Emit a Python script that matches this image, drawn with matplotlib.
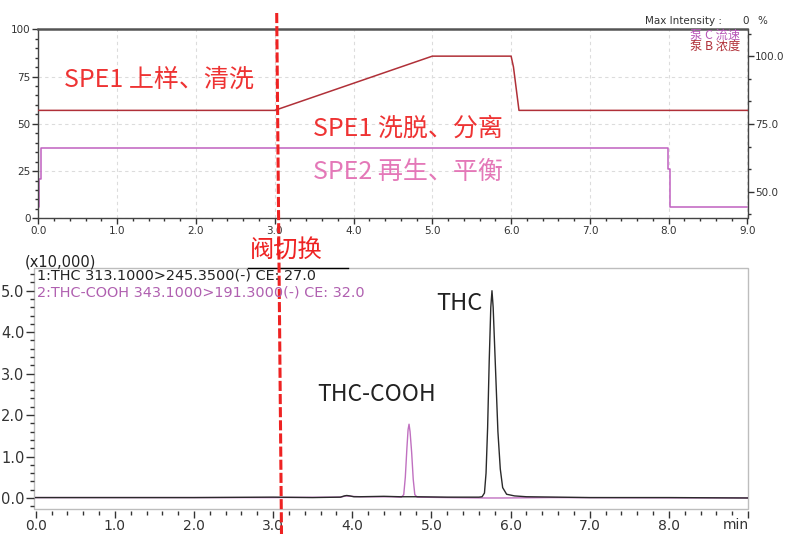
import matplotlib
matplotlib.use('Agg')
import matplotlib.pyplot as plt
from matplotlib.ticker import MultipleLocator, FormatStrFormatter, FixedLocator
from matplotlib.lines import Line2D
from matplotlib.patches import Rectangle

plt.rcParams['font.family'] = ['DejaVu Sans']
CJK = ['Noto Sans CJK SC', 'DejaVu Sans']

############# pump program (upper panel) #############
pump_b_time = [0.0, 3.0, 5.0, 6.0, 6.03, 6.1, 9.0]
pump_b_conc = [80, 80, 100, 100, 96, 80, 80]          # %, right axis

pump_c_time = [0.0, 0.01, 0.01, 0.03, 0.03, 7.99, 7.99, 8.02, 8.02, 9.0]
pump_c_flow = [6, 6, 21, 21, 37, 37, 26, 26, 6, 6]     # left axis

############# MRM chromatogram (lower panel, x10,000) #############
thc_time = [0.0, 1.0, 2.0, 3.0, 3.5, 3.85, 3.9, 3.93, 3.97, 4.02, 4.1, 4.4,
            4.6, 4.8, 5.2, 5.6, 5.64, 5.67, 5.69, 5.71, 5.73, 5.75, 5.765,
            5.78, 5.80, 5.82, 5.84, 5.87, 5.90, 5.95, 6.05, 6.2, 7.0, 8.0, 9.0]
thc_int = [0.01, 0.01, 0.01, 0.02, 0.01, 0.02, 0.05, 0.06, 0.05, 0.03, 0.03, 0.04,
           0.03, 0.03, 0.02, 0.02, 0.03, 0.12, 0.6, 1.7, 3.3, 4.6, 5.0,
           4.6, 3.6, 2.6, 1.6, 0.7, 0.25, 0.09, 0.05, 0.03, 0.01, 0.01, 0.0]

cooh_time = [0.0, 1.0, 2.0, 3.0, 3.85, 3.92, 3.98, 4.1, 4.5, 4.62, 4.65, 4.67,
             4.69, 4.705, 4.717, 4.73, 4.75, 4.77, 4.79, 4.82, 5.2, 5.7, 5.9,
             6.5, 9.0]
cooh_int = [0.01, 0.01, 0.01, 0.01, 0.02, 0.05, 0.04, 0.03, 0.03, 0.02, 0.08, 0.5,
            1.2, 1.65, 1.78, 1.6, 1.1, 0.45, 0.08, 0.02, 0.01, 0.0, 0.0,
            0.01, 0.0]

W, H = 785, 534
fig = plt.figure(figsize=(W / 100, H / 100), dpi=100)


def fx(px):
    return px / W


def fy(py):
    return 1 - py / H


############# upper panel #############
ax1 = fig.add_axes([fx(38.3), fy(218.3), fx(747.5) - fx(38.3), fy(29.3) - fy(218.3)])
ax1.set_xlim(0, 9)
ax1.set_ylim(0, 100)
ax1.grid(True, which='major', ls=(0, (3, 3)), color='#dcdcdc', lw=0.8)
ax1.xaxis.set_major_locator(MultipleLocator(1.0))
ax1.xaxis.set_minor_locator(MultipleLocator(0.2))
ax1.xaxis.set_major_formatter(FormatStrFormatter('%.1f'))
ax1.yaxis.set_major_locator(MultipleLocator(25))
ax1.yaxis.set_minor_locator(MultipleLocator(5))
ax1.tick_params(which='major', length=4, width=1, color='#333333',
                labelsize=7.5, labelcolor='#333333', pad=1.5)
ax1.tick_params(which='minor', length=2.5, width=1, color='#333333')
for s in ax1.spines.values():
    s.set_color('#444444')
    s.set_linewidth(1.0)
ax1.spines['top'].set_linewidth(1.8)
ax1.spines['top'].set_color('#555555')

ax1.plot(pump_c_time, pump_c_flow, color='#c060c0', lw=1.1)

ax1r = ax1.twinx()
ax1r.set_ylim(40.2, 109.9)
ax1r.yaxis.set_major_locator(FixedLocator([50, 75, 100]))
ax1r.yaxis.set_minor_locator(MultipleLocator(25 / 3))
ax1r.yaxis.set_major_formatter(FormatStrFormatter('%.1f'))
ax1r.tick_params(which='major', length=4, width=1, color='#333333',
                 labelsize=7.5, labelcolor='#333333', pad=1.5)
ax1r.tick_params(which='minor', length=2.5, width=1, color='#333333')
for s in ax1r.spines.values():
    s.set_visible(False)
ax1r.plot(pump_b_time, pump_b_conc, color='#b03038', lw=1.1)

ax1.text(0.33, 73.2, 'SPE1 上样、清洗', family=CJK, fontsize=18,
         color='#ee3333', ha='left', va='center')
ax1.text(3.48, 47.6, 'SPE1 洗脱、分离', family=CJK, fontsize=18,
         color='#ee3333', ha='left', va='center')
ax1.text(3.48, 24.7, 'SPE2 再生、平衡', family=CJK, fontsize=18,
         color='#e478b8', ha='left', va='center')

fig.text(fx(722), fy(21.5), 'Max Intensity :', fontsize=7.5, color='#333333',
         ha='right', va='center')
fig.text(fx(746), fy(21.5), '0', fontsize=7.5, color='#333333', ha='center', va='center')
fig.text(fx(762), fy(21.5), '%', fontsize=7.5, color='#333333', ha='center', va='center')
fig.text(fx(740), fy(35), '泵 C 流速', family=CJK, fontsize=8.8, color='#b858b8',
         ha='right', va='center')
fig.text(fx(740), fy(46.5), '泵 B 浓度', family=CJK, fontsize=8.8, color='#b03038',
         ha='right', va='center')

############# lower panel #############
ax2 = fig.add_axes([fx(34.3), fy(509.3), fx(748) - fx(34.3), fy(268) - fy(509.3)])
ax2.set_xlim(-0.018, 9.0)
ax2.set_ylim(-0.273, 5.548)
for s in ax2.spines.values():
    s.set_visible(False)
ax2.spines['bottom'].set_position(('outward', 1.5))
ax2.add_patch(Rectangle((0, 0), 1, 1, transform=ax2.transAxes, fill=False,
                        ec='#bdbdbd', lw=1.0, clip_on=False, zorder=0.5))

ax2.xaxis.set_major_locator(MultipleLocator(1.0))
ax2.xaxis.set_minor_locator(MultipleLocator(0.2))
ax2.xaxis.set_major_formatter(
    plt.FuncFormatter(lambda v, p: '' if v > 8.5 else '%.1f' % v))
ax2.yaxis.set_major_locator(MultipleLocator(1.0))
ax2.yaxis.set_minor_locator(MultipleLocator(0.2))
ax2.yaxis.set_major_formatter(FormatStrFormatter('%.1f'))
ax2.tick_params(axis='x', which='major', length=5, width=1, color='#333333',
                labelsize=10, labelcolor='#333333', pad=0.5)
ax2.tick_params(axis='x', which='minor', length=3, width=1, color='#333333')
ax2.tick_params(axis='y', which='major', length=6, width=1, color='#333333',
                labelsize=10.5, labelcolor='#333333', pad=1)
ax2.tick_params(axis='y', which='minor', length=3, width=1, color='#333333')

ax2.plot(cooh_time, cooh_int, color='#c070c0', lw=1.0)
ax2.plot(thc_time, thc_int, color='#2a2a2a', lw=1.0)

ax2.text(5.352, 4.70, 'THC', family=CJK, fontsize=17, color='#222222',
         ha='center', va='center')
ax2.text(4.306, 2.50, 'THC-COOH', family=CJK, fontsize=16.5, color='#222222',
         ha='center', va='center')

fig.text(fx(25), fy(262), '(x10,000)', fontsize=10.5, color='#222222',
         ha='left', va='center')
fig.text(fx(37), fy(275.5), '1:THC 313.1000>245.3500(-) CE: 27.0', fontsize=10.4,
         color='#222222', ha='left', va='center')
fig.text(fx(37), fy(292.5), '2:THC-COOH 343.1000>191.3000(-) CE: 32.0', fontsize=10.4,
         color='#b060b0', ha='left', va='center')
fig.text(fx(736), fy(525), 'min', fontsize=10, color='#333333',
         ha='center', va='center')

# valve switch marker
ax2.plot([2.683, 3.946], [1, 1], transform=ax2.get_xaxis_transform(),
         color='black', lw=1.0, clip_on=False)
fig.text(fx(250), fy(250.5), '阀切换', family=CJK, fontsize=17.5, color='#ee2222',
         ha='left', va='center')
fig.add_artist(Line2D([fx(276.7), fx(281.5)], [fy(13), fy(534)],
                      transform=fig.transFigure, color='#ee2222', lw=2.2,
                      dashes=(3.3, 1.0)))

plt.savefig('out.png', dpi=100)
